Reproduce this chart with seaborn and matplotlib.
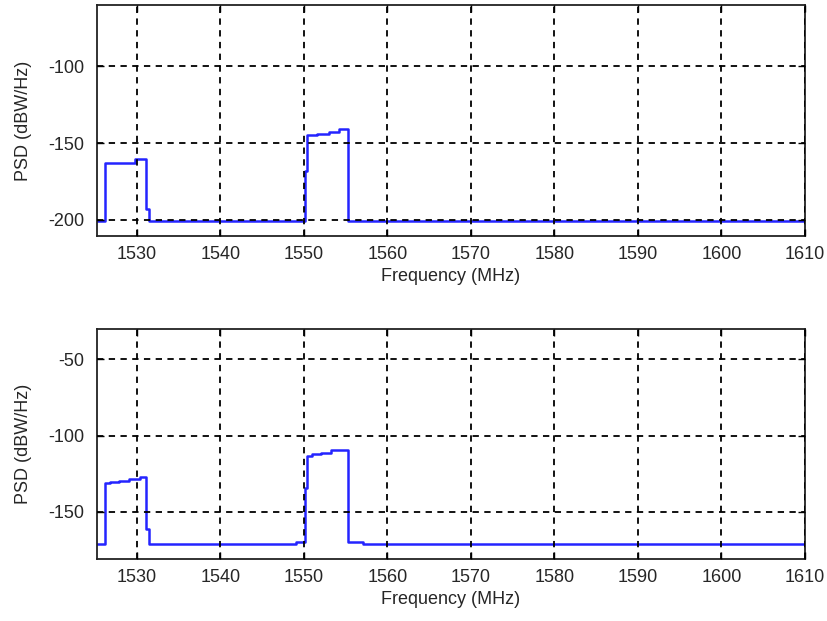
import numpy as np
import pandas as pd
import matplotlib
matplotlib.use("Agg")
import matplotlib.pyplot as plt
import seaborn as sns

# step breakpoints (MHz, dBW/Hz), drawn as steps-post
freq_top = [1525.2, 1526.2, 1529.8, 1531.1, 1531.4, 1550.1, 1550.4, 1551.6,
            1553.0, 1554.2, 1555.3, 1610.0]
psd_top = [-201.0, -162.8, -160.6, -193.0, -201.0, -168.0, -144.7, -144.0,
           -143.0, -141.0, -201.0, -201.0]

freq_bot = [1525.2, 1526.2, 1526.8, 1527.9, 1529.0, 1530.4, 1531.1, 1531.4,
            1549.1, 1550.1, 1550.4, 1551.0, 1552.1, 1553.3, 1555.3, 1557.1, 1610.0]
psd_bot = [-171.3, -131.3, -130.5, -129.6, -128.7, -127.4, -161.4, -171.3,
           -169.8, -134.6, -113.3, -112.0, -111.2, -109.4, -169.8, -171.3, -171.3]

x_ticks = [1530, 1540, 1550, 1560, 1570, 1580, 1590, 1600, 1610]
y_ticks_top = [-200, -150, -100]
y_ticks_bot = [-150, -100, -50]

sns.set_style("ticks")
plt.rcParams['font.family'] = ['Liberation Sans', 'DejaVu Sans']
plt.rcParams['axes.unicode_minus'] = False

fig = plt.figure(figsize=(8.28, 6.21), dpi=100)
ax1 = fig.add_axes([0.117, 0.620, 0.855, 0.372])
ax2 = fig.add_axes([0.117, 0.100, 0.855, 0.370])

panels = [
    (ax1, freq_top, psd_top, y_ticks_top, (-210.6, -60.0)),
    (ax2, freq_bot, psd_bot, y_ticks_bot, (-180.8, -30.3)),
]

for ax, f, p, yt, ylim in panels:
    df = pd.DataFrame({'Frequency': f, 'PSD': p})
    ax.set_axisbelow(False)
    ax.set_xticks(x_ticks)
    ax.set_yticks(yt)
    ax.grid(True, color='black', linestyle=(0, (3.5, 3)), linewidth=1.3)
    sns.lineplot(data=df, x='Frequency', y='PSD', ax=ax, estimator=None,
                 sort=False, drawstyle='steps-post', color='#2424ff',
                 linewidth=1.8)
    ax.set_xlim(1525.2, 1610)
    ax.set_ylim(*ylim)
    ax.set_xlabel('Frequency (MHz)', fontsize=13, labelpad=4)
    ax.set_ylabel('PSD (dBW/Hz)', fontsize=13, labelpad=12)
    ax.tick_params(direction='in', top=True, right=True, length=5,
                   width=1.0, labelsize=13, pad=7, color='black')
    ax.tick_params(axis='y', pad=9)
    for s in ax.spines.values():
        s.set_visible(True)
        s.set_linewidth(1.3)
        s.set_color('#222222')

fig.savefig('out.png', dpi=100, facecolor='white')
